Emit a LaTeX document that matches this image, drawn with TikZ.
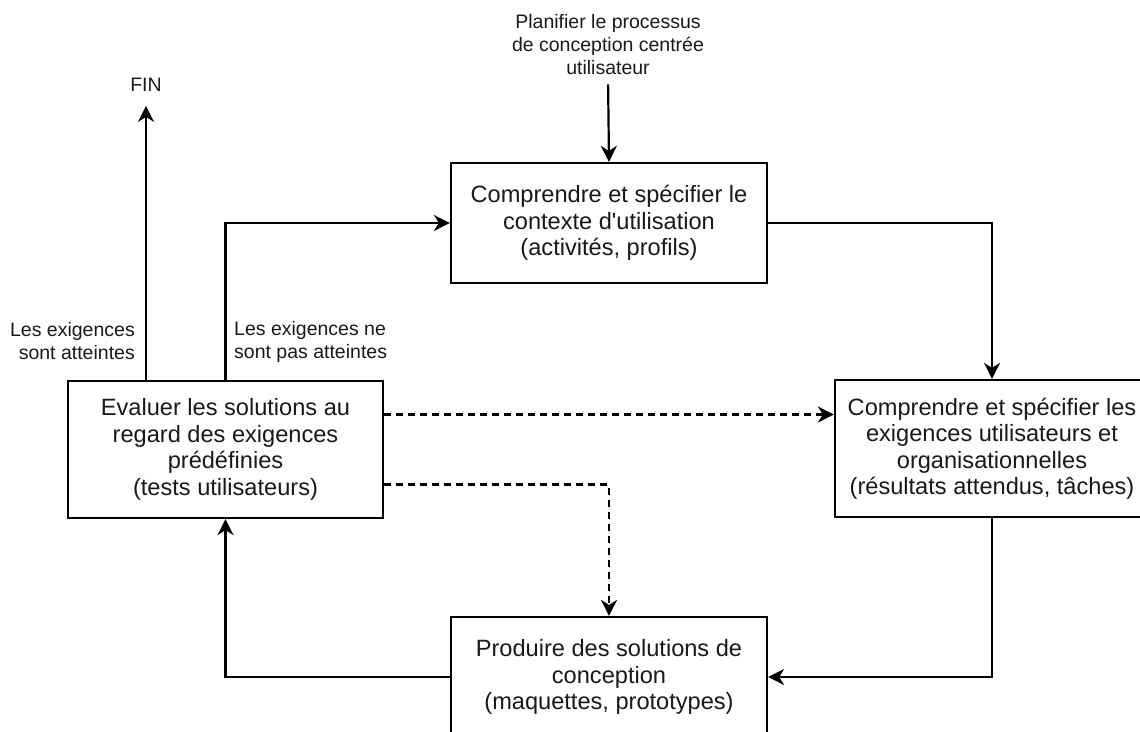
\documentclass[tikz,border=0pt]{standalone}
\usepackage{fontspec}
\setmainfont{Liberation Sans}
\usetikzlibrary{arrows.meta}
\begin{document}
\begin{tikzpicture}[x=1pt,y=-1pt,
  box/.style={draw, line width=2.2pt, inner sep=0pt, align=center, font=\fontsize{23.6pt}{26.5pt}\selectfont, text=black!90},
  lbl/.style={inner sep=0pt, font=\fontsize{19.5pt}{23pt}\selectfont, text=black!90},
  conn/.style={line width=2.2pt, -{Stealth[length=16pt,width=16pt,inset=5pt]}},
  dashconn/.style={conn, dash pattern=on 7pt off 5pt}]
\useasboundingbox (0,0) rectangle (1140,731);
\fill[white] (0,0) rectangle (1140,731);
\clip (0,0) rectangle (1140,731);

\node[box, minimum width=316pt, minimum height=120pt] (top) at (609,223)
  {Comprendre et spécifier le\\contexte d\textquotesingle utilisation\\(activités, profils)};
\node[box, minimum width=315pt, minimum height=137pt] (left) at (225.5,449.5)
  {Evaluer les solutions au\\regard des exigences\\prédéfinies\\(tests utilisateurs)};
\node[box, minimum width=314pt, minimum height=137pt] (right) at (992,448.5)
  {Comprendre et spécifier les\\exigences utilisateurs et\\organisationnelles\\(résultats attendus, tâches)};
\node[box, minimum width=316pt, minimum height=120pt] (bottom) at (609,677)
  {Produire des solutions de\\conception\\(maquettes, prototypes)};

\node[lbl, align=center] (plan) at (608,45)
  {Planifier le processus\\de conception centrée\\utilisateur};
\node[lbl] (fin) at (146,85) {FIN};
\node[lbl, align=right, anchor=east] (ok) at (135,341.5)
  {Les exigences\\sont atteintes};
\node[lbl, align=left, anchor=west] (nok) at (234,341.5)
  {Les exigences ne\\sont pas atteintes};

\draw[conn, shorten <=9pt] (plan.south) -- (top.north);
\draw[conn] (left.north) |- (top.west);
\draw[conn] (top.east) -| (right.north);
\draw[conn] (right.south) |- (bottom.east);
\draw[conn] (bottom.west) -| (left.south);
\draw[conn, shorten >=14pt] ([xshift=-79.5pt]left.north) -- (fin.south);
\draw[dashconn] ([yshift=35pt]left.east) -- ([yshift=35pt]left.east -| right.west);
\draw[dashconn] ([yshift=-35pt]left.east) -| (bottom.north);
\end{tikzpicture}
\end{document}
